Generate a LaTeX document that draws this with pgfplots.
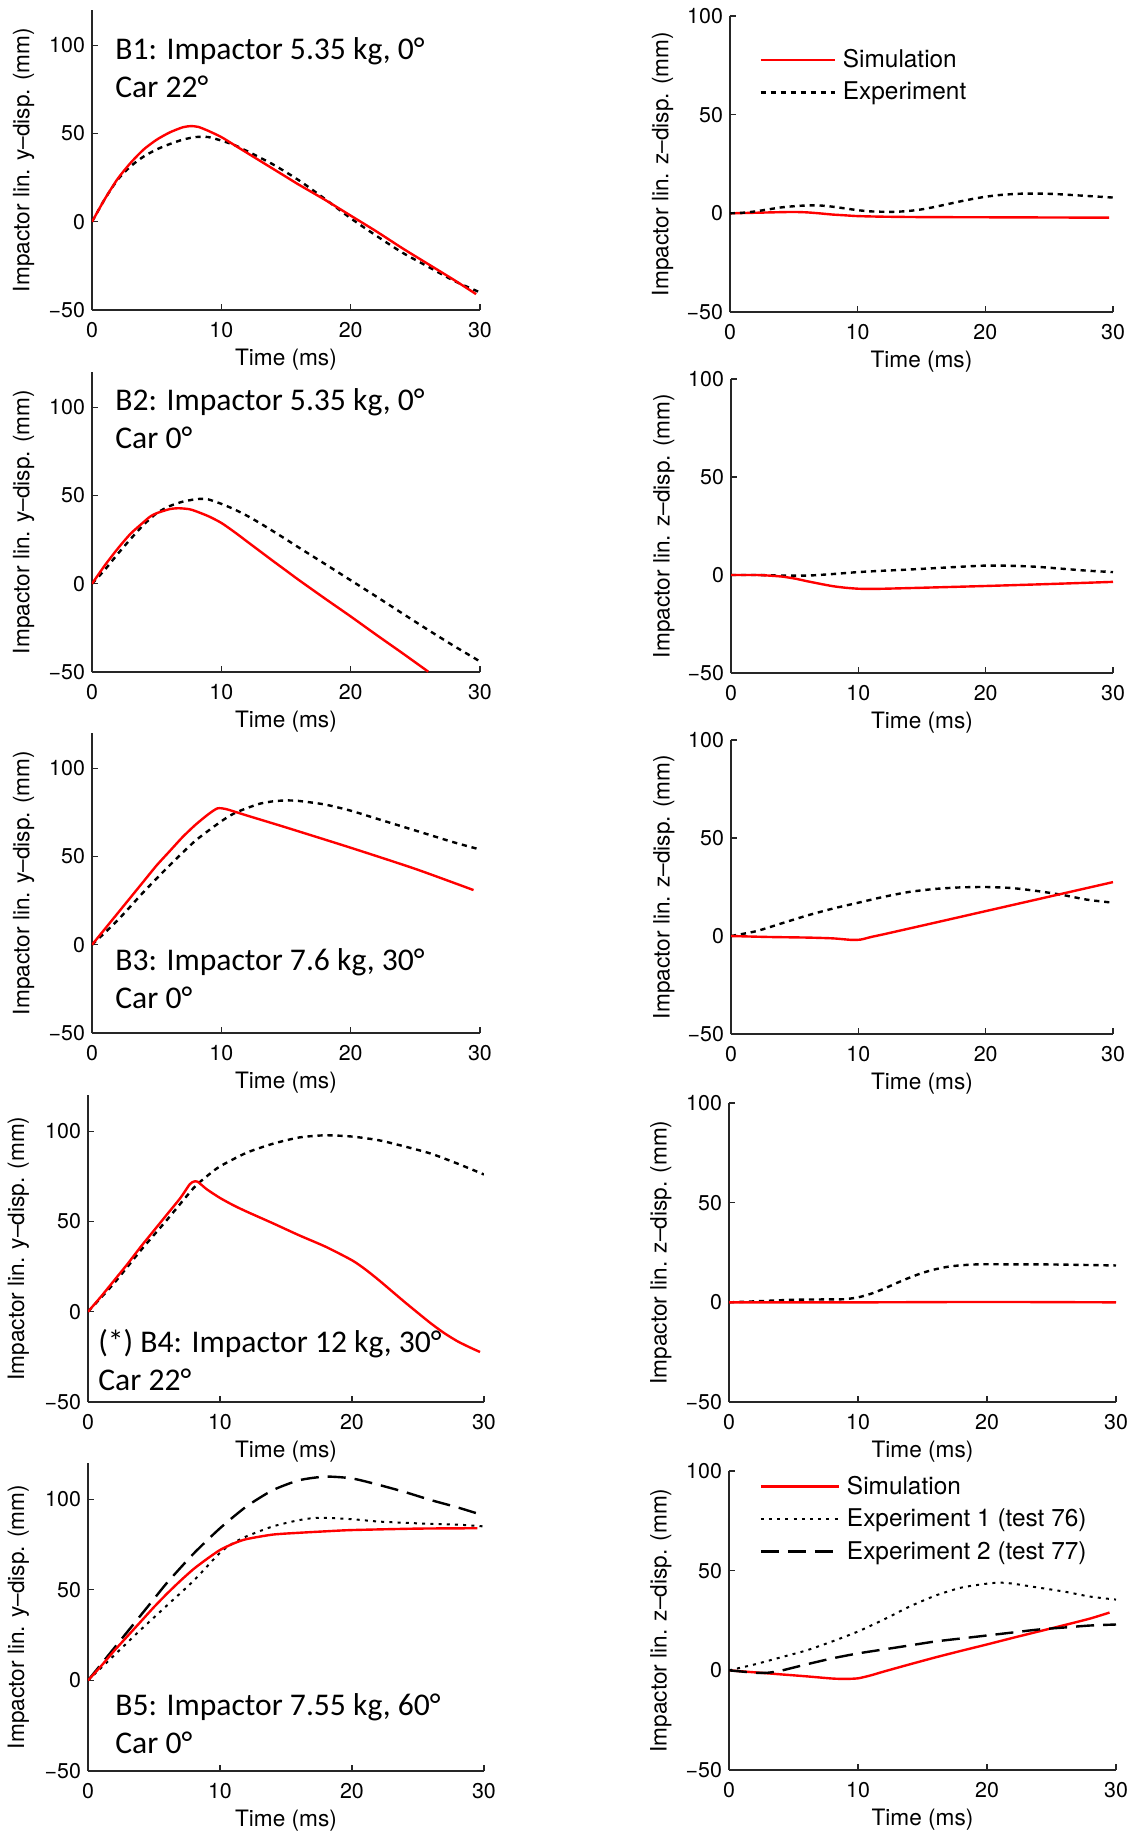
\documentclass[border=0pt]{standalone}
\usepackage{fontspec}
\setmainfont{TeX Gyre Heros}
\newfontfamily\helv{TeX Gyre Heros}
\newfontfamily\calibri{Carlito}
\usepackage{pgfplots}
\pgfplotsset{compat=1.18}
\pgfplotsset{
  panel/.style={
    scale only axis,
    axis lines=left,
    axis line style={-, black!85, line width=0.6pt},
    every tick/.style={black!85, line width=0.6pt},
    major tick length=3pt,
    tick align=inside,
    xmin=0, xmax=30, ymin=-50,
    xtick={0,10,20,30}, xticklabels={0,10,20,30},
    ytick={-50,0,50,100}, yticklabels={−50,0,50,100},
    tick label style={font=\helv\fontsize{10.7}{13}\selectfont, text=black},
    xticklabel style={yshift=-2.5pt},
    xlabel={Time (ms)},
    every axis x label/.style={at={(axis description cs:0.5,0)}, anchor=base, yshift=-27.5pt,
      font=\helv\fontsize{11.3}{13}\selectfont, text=black},
    every axis y label/.style={at={(axis description cs:-0.176,0.5)}, rotate=90, anchor=center,
      font=\helv\fontsize{11.3}{13}\selectfont, text=black},
    clip=true,
  },
  leftp/.style={panel, ymax=120, ylabel={Impactor lin. y–disp. (mm)}},
  rightp/.style={panel, ymax=100, ylabel={Impactor lin. z–disp. (mm)}},
  sim/.style={red, line width=1.2pt, smooth, tension=0.4},
  exp/.style={black, line width=1.2pt, dash pattern=on 2.6pt off 2.4pt, smooth, tension=0.4},
  expa/.style={black, line width=1.0pt, dash pattern=on 1.5pt off 2.6pt, smooth, tension=0.4},
  expb/.style={black, line width=1.2pt, dash pattern=on 9pt off 4.5pt, smooth, tension=0.4},
  leg/.style={
    legend cell align=left,
    legend image code/.code={\draw[##1] (0pt,0pt) -- (37pt,0pt);},
    legend style={draw=none, fill=none, inner sep=0pt, row sep=1.8pt, column sep=1.5pt,
      font=\helv\fontsize{12.2}{14}\selectfont},
  },
}
\begin{document}
\begin{tikzpicture}
\path[use as bounding box] (0,0) rectangle (566pt,-916pt);

% ---------------- Row 1 ----------------
\begin{axis}[leftp, at={(46pt,-155pt)}, anchor=south west, width=194pt, height=150pt]
\addplot[exp] coordinates {(0,0)(1,13)(2,24)(3,31.5)(4,37)(5,41)(6,44)(7,46.5)(8,48)(9,48)(10,46)(11,43.5)(12,40)(14,32.5)(16,23.5)(18,13)(20,2)(22,-8)(24,-17.5)(26,-25.5)(28,-33.5)(30,-40)};
\addplot[sim] coordinates {(0,0)(1,13)(2,24.5)(3,33.5)(4,41)(5,46.5)(6,50.6)(7,53.5)(7.6,54.2)(8.2,53.8)(9,51.5)(10,48)(11,43.5)(12,39)(13,34.5)(14,30)(15,25.5)(16,21)(18,12.5)(20,3.5)(22,-5.5)(24,-15)(26,-24)(28,-33)(29.7,-41)};
\end{axis}
\begin{axis}[rightp, leg, at={(365pt,-156pt)}, anchor=south west, width=191.5pt, height=148pt,
  legend style={at={(axis description cs:0.076,0.903)}, anchor=north west}]
\addplot[sim] coordinates {(0,0)(2,0.3)(4,0.6)(5,0.7)(6,0.5)(7,0)(8,-0.6)(9,-1)(10,-1.4)(12,-1.7)(15,-1.9)(20,-2)(25,-2.1)(29.7,-2.2)};
\addplot[exp] coordinates {(0,0)(1,0.3)(2,1)(3,2)(4,3)(5,3.6)(6,4)(7,4)(8,3.4)(9,2.5)(10,1.6)(11,1)(12,0.8)(13,0.8)(14,1.2)(15,2)(16,3.2)(17,4.6)(18,6)(19,7.3)(20,8.4)(21,9.2)(22,9.7)(23,10)(24,10)(25,9.9)(26,9.6)(27,9.2)(28,8.8)(29,8.4)(30,8)};
\legend{Simulation, Experiment}
\end{axis}

% ---------------- Row 2 ----------------
\begin{axis}[leftp, at={(46pt,-336pt)}, anchor=south west, width=194pt, height=150pt]
\addplot[exp] coordinates {(0,0)(1,8)(2,17)(3,25.5)(4,33.5)(5,40)(6,44)(7,46.5)(8,47.9)(8.5,48.1)(9,47.8)(10,45.3)(11,42.2)(12,38.5)(13,34.3)(14,29.8)(15,25.2)(16,20.5)(18,11.3)(20,2)(22,-7.3)(24,-16.8)(26,-26.2)(28,-35.3)(30,-44)};
\addplot[sim] coordinates {(0,0)(1,10.5)(2,20)(3,28.5)(4,35)(4.5,38.1)(5,40)(6,42.3)(6.7,42.8)(7.5,42.3)(8,41.2)(9,38.3)(10,34.5)(11,29.4)(12,23.9)(13,18.4)(14,12.9)(15,7.5)(16,2.1)(18,-8.3)(20,-18.5)(22,-29)(24,-39.3)(26,-49.8)};
\end{axis}
\begin{axis}[rightp, at={(365.5pt,-336.5pt)}, anchor=south west, width=191pt, height=147pt]
\addplot[exp] coordinates {(0,0)(2,0)(4,-0.3)(6,-0.3)(8,0.5)(10,1.5)(12,2.2)(14,2.8)(16,3.5)(18,4.2)(20,4.8)(22,4.7)(24,4.2)(26,3.2)(28,2.2)(30,1.5)};
\addplot[sim] coordinates {(0,0)(2,0)(3,-0.3)(4,-0.8)(5,-1.8)(6,-3.2)(7,-4.5)(8,-5.7)(9,-6.5)(10,-7)(11,-7.1)(12,-7)(15,-6.5)(20,-5.6)(25,-4.6)(30,-3.5)};
\end{axis}

% ---------------- Row 3 ----------------
\begin{axis}[leftp, at={(46pt,-516.5pt)}, anchor=south west, width=194pt, height=150pt]
\addplot[exp] coordinates {(0,0)(2,14)(4,30)(6,45)(8,59)(10,70)(11,74.5)(12,77.5)(13,80)(14,81.3)(15,81.8)(16,81.5)(18,79.5)(20,76)(22,71.5)(24,67)(26,62.5)(28,58)(30,54)};
\addplot[sim] coordinates {(0,0)(1,9)(2,18)(3,27)(4,36)(5,45)(6,53)(7,61)(8,68)(9,74)(9.7,77.3)(10.3,77)(11,75.5)(12,73.2)(15,66.5)(20,55)(25,43)(29.5,31)};
\end{axis}
\begin{axis}[rightp, at={(365.5pt,-517pt)}, anchor=south west, width=191pt, height=147pt]
\addplot[exp] coordinates {(0,0)(2,2.5)(4,6.5)(6,10.5)(8,14)(10,17)(12,20)(14,22.5)(16,24)(18,24.8)(20,25)(22,24.5)(24,23)(26,21)(28,18.5)(30,17)};
\addplot[sim] coordinates {(0,0)(3,-0.5)(6,-0.8)(8,-1.2)(9.5,-2)(10.2,-1.8)(11,-0.5)(12,0.9)(15,5.3)(20,12.7)(25,20.1)(30,27.5)};
\end{axis}

% ---------------- Row 4 ----------------
\begin{axis}[leftp, at={(44pt,-701pt)}, anchor=south west, width=198pt, height=153.5pt]
\addplot[exp] coordinates {(0,0)(2,16)(4,34)(6,51)(8,68.5)(9,75)(10,80.5)(12,88)(14,93)(16,96.5)(18,97.7)(20,97)(22,95)(24,91.5)(26,87.5)(28,82)(30,76)};
\addplot[sim] coordinates {(0,0)(1,8.5)(2,17.5)(3,26.5)(4,36)(5,45)(6,54)(7,63)(7.7,70.5)(8,72)(8.3,72)(9,67.8)(10,63)(11,59)(12,55.5)(14,49)(16,42.3)(18,36)(20,28.5)(21,23.5)(22,17.7)(23,11.5)(24,5.3)(25,-0.7)(26,-6.6)(27,-11.9)(28,-16.4)(29,-20)(29.7,-22.3)};
\end{axis}
\begin{axis}[rightp, at={(364.5pt,-701pt)}, anchor=south west, width=193.5pt, height=149.5pt]
\addplot[exp] coordinates {(0,0)(2,0.5)(5,1.3)(8,1.5)(9,1.6)(10,2.5)(11,4.3)(12,6.8)(13,9.7)(14,12.4)(15,14.8)(16,16.6)(17,17.9)(18,18.6)(19,19)(20,19.1)(25,19)(30,18.5)};
\addplot[sim] coordinates {(0,0)(10,0)(20,0.2)(30,0)};
\end{axis}

% ---------------- Row 5 ----------------
\begin{axis}[leftp, at={(44pt,-885.5pt)}, anchor=south west, width=198pt, height=154pt]
\addplot[expb] coordinates {(0,0)(2,18)(4,36)(5,45)(6,54)(8,70)(10,84)(12,96)(14,105)(16,110.5)(18,112.5)(20,111.5)(22,108)(24,104)(26,99.5)(28,95.5)(30,91)};
\addplot[expa] coordinates {(0,0)(2,14)(4,28)(6,41.5)(8,55)(10,70.5)(11,75.8)(12,79.5)(14,85)(16,88.5)(17.5,89.8)(20,89)(22,87.7)(25,86.7)(28,86)(30,85)};
\addplot[sim] coordinates {(0,0)(1,8)(2,16.5)(3,24.5)(4,32.5)(5,40.5)(6,48)(7,55)(8,61.5)(9,67)(10,72)(11,75.5)(12,78)(14,80.5)(16,81.5)(18,82.3)(20,83)(25,83.8)(29.5,84)};
\end{axis}
\begin{axis}[rightp, leg, at={(364.5pt,-885pt)}, anchor=south west, width=193.5pt, height=149.5pt,
  legend style={at={(axis description cs:0.078,0.998)}, anchor=north west},
  legend image code/.code={\draw[#1] (0pt,0pt) -- (39pt,0pt);}]
\addplot[sim] coordinates {(0,0)(2,-1)(4,-2)(6,-3)(8,-4.1)(9,-4.3)(10,-4)(11,-2.5)(12,-0.6)(14,3)(16,6.5)(18,9.8)(20,13)(22,16.3)(24,19.5)(26,22.7)(28,26)(29.5,29)};
\addplot[expa] coordinates {(0,0)(2,3)(4,6.5)(6,10)(8,14.5)(10,19.5)(12,25.5)(14,32)(16,37.5)(18,41.5)(20,43.5)(21,44)(22,43.5)(24,41.5)(26,39.5)(28,37)(30,35.5)};
\addplot[expb] coordinates {(0,0)(1,-0.6)(2,-1.2)(3,-1.2)(4,-0.2)(6,3)(8,6)(10,8.5)(12,10.5)(14,12.5)(16,14.5)(18,16)(20,17.5)(22,19)(24,20.5)(26,21.5)(28,22.5)(30,23)};
\legend{Simulation, Experiment 1 (test 76), Experiment 2 (test 77)}
\end{axis}

% ---------------- Annotations ----------------
\begin{scope}[every node/.style={anchor=base west, inner sep=0pt, font=\calibri\fontsize{15.8}{19}\selectfont}]
\node at (57.5pt,-29.5pt) {B1: Impactor 5.35 kg, 0°};
\node at (57.5pt,-48.5pt) {Car 22°};
\node at (57.5pt,-205pt) {B2: Impactor 5.35 kg, 0°};
\node at (57.5pt,-224pt) {Car 0°};
\node at (57.5pt,-485pt) {B3: Impactor 7.6 kg, 30°};
\node at (57.5pt,-504pt) {Car 0°};
\node at (49pt,-676pt) {(*) B4: Impactor 12 kg, 30°};
\node at (49pt,-695pt) {Car 22°};
\node at (57.5pt,-857.5pt) {B5: Impactor 7.55 kg, 60°};
\node at (57.5pt,-876.5pt) {Car 0°};
\end{scope}
\end{tikzpicture}
\end{document}
